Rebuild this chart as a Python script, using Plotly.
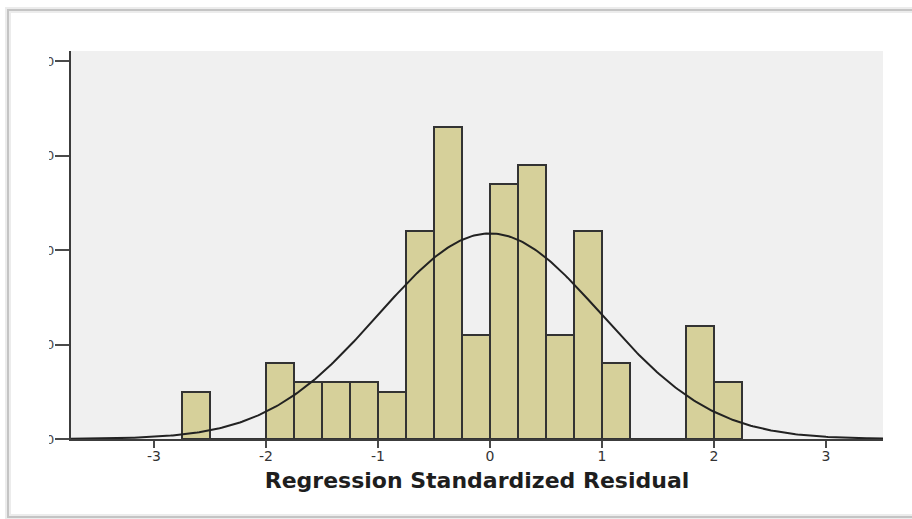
import numpy as np
import plotly.graph_objects as go

# Histogram of regression standardized residuals (bin width 0.25)
bin_left_edges = [-2.75, -2.5, -2.25, -2.0, -1.75, -1.5, -1.25, -1.0, -0.75, -0.5,
                  -0.25, 0.0, 0.25, 0.5, 0.75, 1.0, 1.25, 1.5, 1.75, 2.0]
frequencies = [5, 0, 0, 8, 6, 6, 6, 5, 22, 33,
               11, 27, 29, 11, 22, 8, 0, 0, 12, 6]
bin_width = 0.25

# Normal curve parameters
resid_mean = 0.0
resid_std = 0.995
n_obs = sum(frequencies)

x_ticks = [-3, -2, -1, 0, 1, 2, 3]
y_ticks = [0, 10, 20, 30, 40]
x_title = "Regression Standardized Residual"

x_range = [-3.741, 3.509]
y_range = [0, 41.06]

centers = [e + bin_width / 2 for e in bin_left_edges]

fig = go.Figure()
fig.add_trace(go.Bar(
    x=centers, y=frequencies, width=bin_width,
    marker=dict(color="#d6d09a", line=dict(color="#333333", width=2)),
    hoverinfo="x+y",
))

xs = np.linspace(x_range[0], x_range[1], 400)
density = n_obs * bin_width / (resid_std * np.sqrt(2 * np.pi)) * np.exp(-0.5 * ((xs - resid_mean) / resid_std) ** 2)
fig.add_trace(go.Scatter(x=xs, y=density, mode="lines",
                         line=dict(color="#222222", width=2), hoverinfo="skip"))

x_font = dict(family="DejaVu Sans", size=14, color="#333333")
y_font = dict(family="DejaVu Sans", size=13, color="#4a4a4a")

fig.update_layout(
    width=912, height=519, autosize=False,
    margin=dict(l=71, r=29, t=51, b=80),
    paper_bgcolor="white", plot_bgcolor="#f0f0f0",
    showlegend=False, bargap=0,
    xaxis=dict(
        range=x_range, tickvals=x_ticks, ticktext=[str(v) for v in x_ticks],
        showgrid=False, zeroline=False,
        showline=True, linecolor="#3c3c3c", linewidth=2,
        ticks="outside", ticklen=7, tickwidth=2, tickcolor="#4a4a4a",
        tickfont=x_font, ticklabelstandoff=-4,
        title=dict(text=x_title, standoff=10,
                   font=dict(family="DejaVu Sans", size=22, color="#1e1e1e", weight="bold")),
    ),
    yaxis=dict(
        range=y_range, tickvals=y_ticks, ticktext=[str(v) for v in y_ticks],
        showgrid=False, zeroline=False,
        showline=True, linecolor="#3c3c3c", linewidth=2,
        ticks="outside", ticklen=14, tickwidth=2, tickcolor="#4a4a4a",
        tickfont=y_font, ticklabelstandoff=-2,
    ),
)

# plot height / width in pixels, for placing paper-referenced shapes
pw, ph = 812.0, 388.0
def px_x(p):
    return (p - 71) / pw
def px_y(p):
    return (439 - p) / ph

# white strip trimming the left side of the count labels
fig.add_shape(type="rect", xref="paper", yref="paper",
              x0=px_x(9), x1=px_x(49), y0=px_y(455), y1=px_y(40),
              fillcolor="white", line=dict(width=0), layer="above")
# output frame with a soft shadow
fig.add_shape(type="rect", xref="paper", yref="paper",
              x0=px_x(8), x1=px_x(930), y0=px_y(517), y1=px_y(10),
              line=dict(color="#ececec", width=6), layer="above")
fig.add_shape(type="rect", xref="paper", yref="paper",
              x0=px_x(8), x1=px_x(930), y0=px_y(517), y1=px_y(10),
              line=dict(color="#c4c4c4", width=2), layer="above")

fig.write_html("out.html")
